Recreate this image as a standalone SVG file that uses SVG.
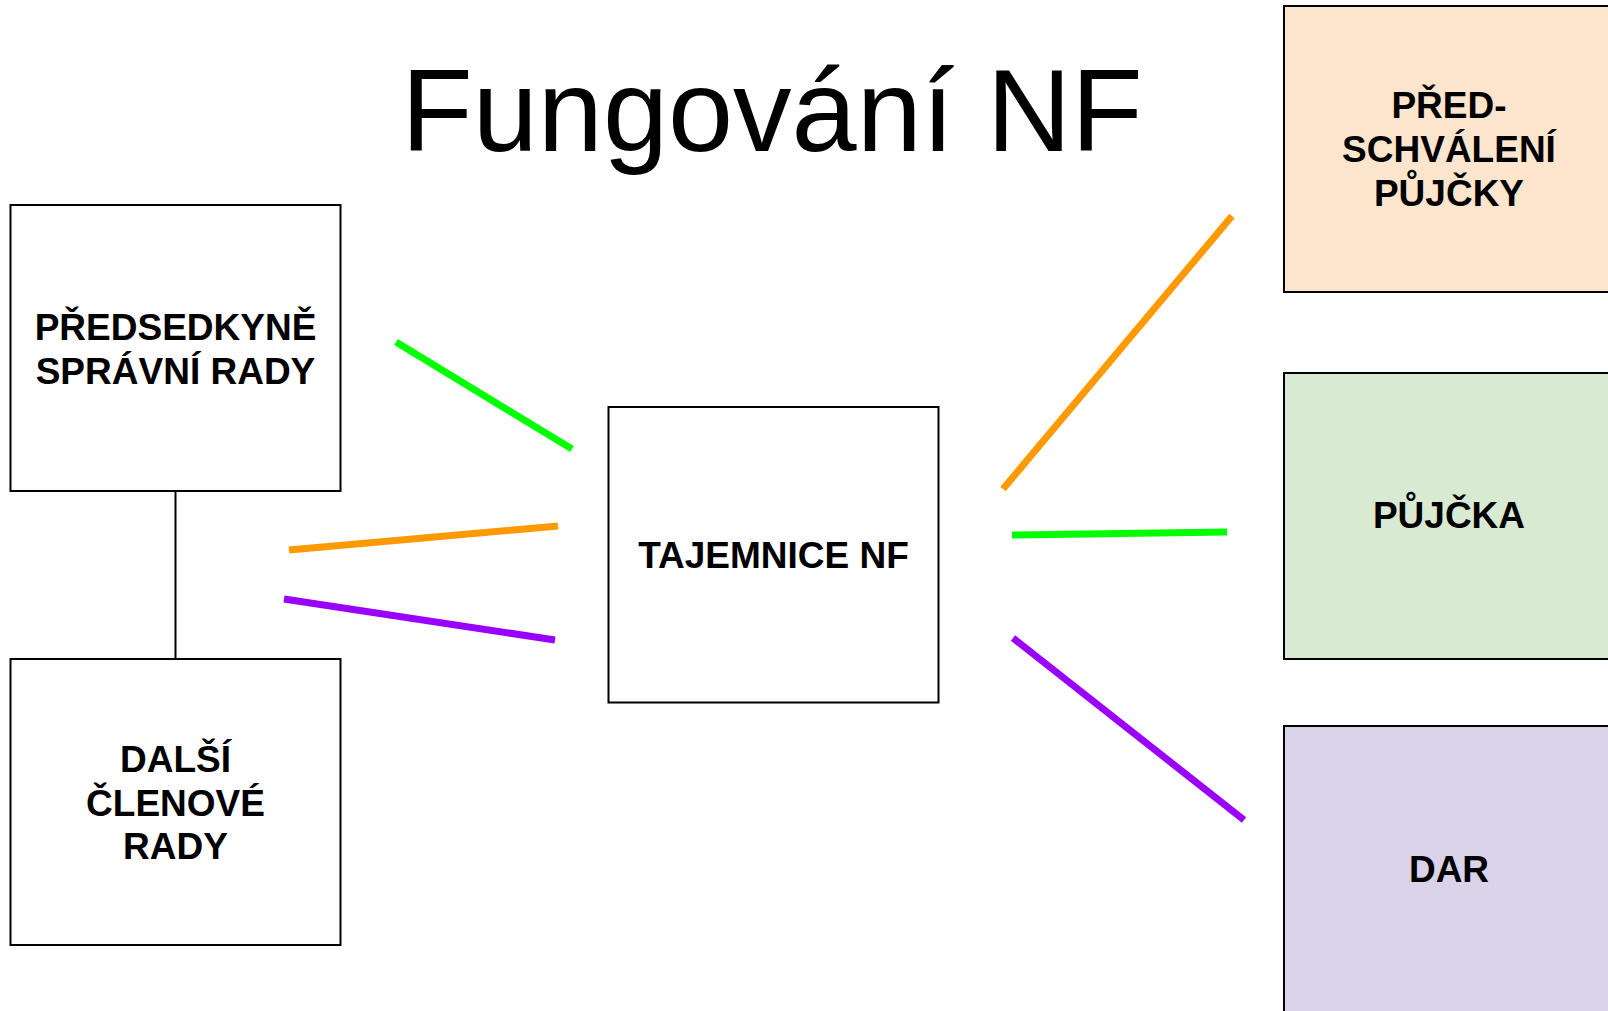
<svg xmlns="http://www.w3.org/2000/svg" width="1608" height="1011" viewBox="0 0 1608 1011">
<style>
.box{stroke:#000;stroke-width:2}
.lbl{font-family:"Liberation Sans",Arial,sans-serif;font-weight:bold;font-size:37px;fill:#000;text-anchor:middle}
.title{font-family:"Liberation Sans",Arial,sans-serif;font-size:117px;fill:#000;text-anchor:middle}
.c{stroke-width:7;fill:none}
</style>
<rect width="1608" height="1011" fill="#fff"/>
<text class="title" x="772" y="151">Fungování NF</text>
<g id="connectors">
<line x1="175.5" y1="491" x2="175.5" y2="659" stroke="#000" stroke-width="2"/>
<line class="c" stroke="#00ff00" x1="396" y1="342" x2="572" y2="449"/>
<line class="c" stroke="#ff9900" x1="289" y1="550" x2="558" y2="526"/>
<line class="c" stroke="#9900ff" x1="284" y1="599" x2="555" y2="640"/>
<line class="c" stroke="#ff9900" x1="1003" y1="489" x2="1232" y2="216"/>
<line class="c" stroke="#00ff00" x1="1012" y1="535" x2="1227" y2="532"/>
<line class="c" stroke="#9900ff" x1="1013" y1="638" x2="1244" y2="820"/>
</g>
<g id="predsedkyne">
<rect class="box" x="10.5" y="205" width="330" height="286" fill="#fff"/>
<text class="lbl" x="175.5" y="339.5">PŘEDSEDKYNĚ</text>
<text class="lbl" x="175.5" y="383.5">SPRÁVNÍ RADY</text>
</g>
<g id="dalsi-clenove">
<rect class="box" x="10.5" y="659" width="330" height="286" fill="#fff"/>
<text class="lbl" x="175.5" y="772">DALŠÍ</text>
<text class="lbl" x="175.5" y="815.5">ČLENOVÉ</text>
<text class="lbl" x="175.5" y="859">RADY</text>
</g>
<g id="tajemnice">
<rect class="box" x="608.5" y="407" width="330" height="295.5" fill="#fff"/>
<text class="lbl" x="773.5" y="568">TAJEMNICE NF</text>
</g>
<g id="predschvaleni">
<rect class="box" x="1284" y="6" width="330" height="286" fill="#fce5cd"/>
<text class="lbl" x="1449" y="118">PŘED-</text>
<text class="lbl" x="1449" y="162">SCHVÁLENÍ</text>
<text class="lbl" x="1449" y="206">PŮJČKY</text>
</g>
<g id="pujcka">
<rect class="box" x="1284" y="373" width="330" height="286" fill="#d9ead3"/>
<text class="lbl" x="1449" y="528">PŮJČKA</text>
</g>
<g id="dar">
<rect class="box" x="1284" y="726" width="330" height="290" fill="#d9d2e9"/>
<text class="lbl" x="1449" y="882">DAR</text>
</g>
</svg>
